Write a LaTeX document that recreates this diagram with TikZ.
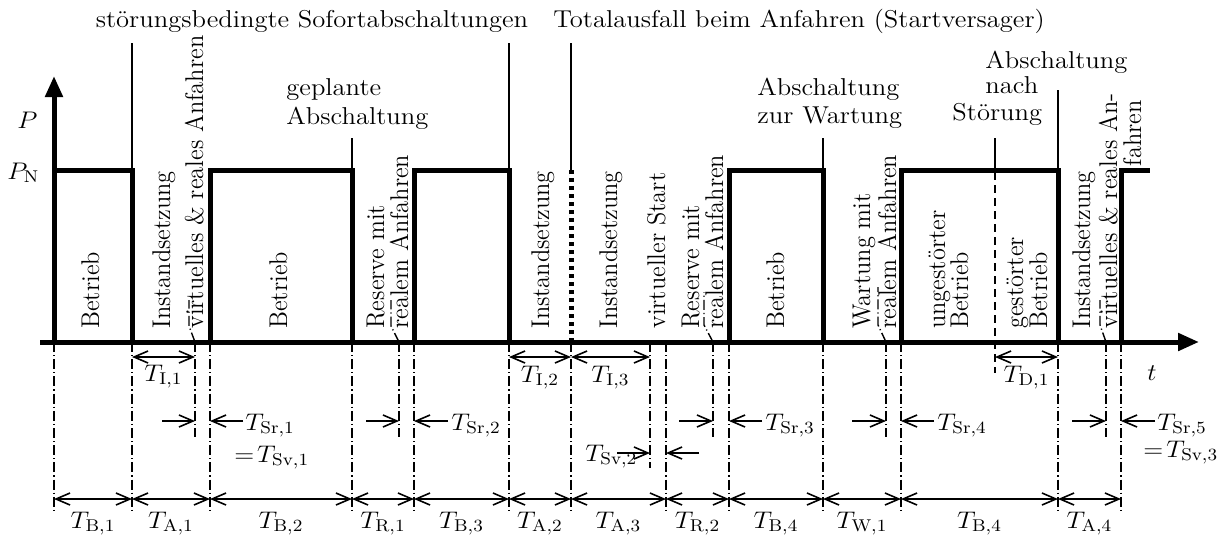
\documentclass[tikz,border=0pt]{standalone}
\usepackage{fontspec}
\usepackage{graphicx}
\usetikzlibrary{arrows.meta}
\newcommand{\hsc}[1]{\scalebox{1.09}[1]{#1}}
\newcommand{\vsc}[1]{\scalebox{1}[1.05]{#1}}
\begin{document}
\begin{tikzpicture}[x=0.5pt,y=-0.5pt,
  every node/.style={inner sep=0pt, font=\fontsize{12.2}{14.6}\selectfont},
  wave/.style={line width=2.5pt, line join=miter},
  axisline/.style={line width=2.5pt, -{Triangle[length=10.5pt,width=8.5pt]}},
  tick/.style={line width=0.8pt},
  dd/.style={line width=0.7pt, dash pattern=on 5pt off 1.5pt on 0.6pt off 1.5pt},
  dashln/.style={line width=0.7pt, dash pattern=on 4pt off 2.5pt},
  dotln/.style={line width=2.5pt, dash pattern=on 2pt off 2pt},
  dim/.style={line width=0.8pt, {Straight Barb[length=7pt,width=6pt]}-{Straight Barb[length=7pt,width=6pt]}},
  dimr/.style={line width=0.8pt, -{Straight Barb[length=7pt,width=6pt]}},
  rot/.style={rotate=90, anchor=base west},
  rotend/.style={rotate=90, anchor=base east},
  lbase/.style={anchor=base west},
  cbase/.style={anchor=base}
]
\useasboundingbox (0,0) rectangle (1218,536);

% axes
\draw[axisline] (40,342) -- (1199,342);
\draw[axisline] (54,342) -- (54,76);
\node[lbase] (P) at (17,128) {\hsc{$P$}};
\node[lbase] (PN) at (7,179) {\hsc{$P_{\mathrm{N}}$}};
\node[cbase] (t) at (1152,380) {\hsc{$t$}};

% waveform
\draw[wave] (54,342) -- (54,170) -- (132,170) -- (132,342) -- (210,342) -- (210,170)
  -- (352,170) -- (352,342) -- (414,342) -- (414,170) -- (509,170) -- (509,342)
  -- (729,342) -- (729,170) -- (823,170) -- (823,342) -- (901,342) -- (901,170)
  -- (1058,170) -- (1058,342) -- (1121,342) -- (1121,170) -- (1150,170);
\draw[dotln] (571,170) -- (571,342);

% top ticks
\draw[tick] (132,43) -- (132,170);
\draw[tick] (352,138) -- (352,170);
\draw[tick] (509,43) -- (509,170);
\draw[tick] (571,43) -- (571,172);
\draw[tick] (823,138) -- (823,170);
\draw[tick] (995,138) -- (995,172);
\draw[tick] (1058,90) -- (1058,170);
\draw[dashln] (995,172) -- (995,373);

% top texts
\node[cbase] (top1) at (312,27) {\hsc{störungsbedingte Sofortabschaltungen}};
\node[cbase] (top2) at (799,27) {\hsc{Totalausfall beim Anfahren (Startversager)}};
\node[lbase] (gp1) at (286,95) {\hsc{geplante}};
\node[lbase] (gp2) at (286,124) {\hsc{Abschaltung}};
\node[lbase] (zw1) at (757,95) {\hsc{Abschaltung}};
\node[lbase] (zw2) at (757,123) {\hsc{zur Wartung}};
\node[lbase] (ns1) at (985,68) {\hsc{Abschaltung}};
\node[lbase] (ns2) at (985,93) {\hsc{nach}};
\node[lbase] (ns3) at (952,120) {\hsc{Störung}};

% rotated texts
\node[rot] (r1) at (99,329) {\vsc{Betrieb}};
\node[rot] (r2) at (170,329) {\vsc{Instandsetzung}};
\node[rot] (r3) at (203,329) {\vsc{virtuelles \& reales Anfahren}};
\node[rot] (r4) at (287,329) {\vsc{Betrieb}};
\node[rot] (r5) at (384,329) {\vsc{Reserve mit}};
\node[rot] (r6) at (408,329) {\vsc{realem Anfahren}};
\node[rot] (r7) at (549,329) {\vsc{Instandsetzung}};
\node[rot] (r8) at (617,329) {\vsc{Instandsetzung}};
\node[rot] (r9) at (665,329) {\vsc{virtueller Start}};
\node[rot] (r10) at (699,329) {\vsc{Reserve mit}};
\node[rot] (r11) at (723,329) {\vsc{realem Anfahren}};
\node[rot] (r12) at (784,329) {\vsc{Betrieb}};
\node[rot] (r13) at (870,329) {\vsc{Wartung mit}};
\node[rot] (r14) at (896,329) {\vsc{realem Anfahren}};
\node[rot] (r15) at (945,329) {\vsc{ungestörter}};
\node[rot] (r16) at (968,329) {\vsc{Betrieb}};
\node[rot] (r17) at (1023,329) {\vsc{gestörter}};
\node[rot] (r18) at (1047,329) {\vsc{Betrieb}};
\node[rot] (r19) at (1090,329) {\vsc{Instandsetzung}};
\node[rot] (r20) at (1117,329) {\vsc{virtuelles \& reales An-}};
\node[rotend] (r21) at (1141,100) {\vsc{fahren}};

% leaders
\draw[dd] (195,342) -- (189,326) -- (189,300);
\draw[dd] (399,342) -- (391,326) -- (391,300);
\draw[dd] (713,342) -- (704,325) -- (704,292);
\draw[dd] (886,342) -- (878,325) -- (878,287);
\draw[dd] (1106,342) -- (1100,325) -- (1100,300);

% dash-dot verticals
\foreach \x in {54,132,210,352,414,509,571,666,729,823,901,1058,1121}
  \draw[dd] (\x,342) -- (\x,512);
\foreach \x in {195,399,713,886,1106}
  \draw[dd] (\x,342) -- (\x,437);
\draw[dd] (650,342) -- (650,468);

% row 1
\draw[dim] (132,357) -- (195,357);
\node[cbase] (i1) at (163.5,381) {\hsc{$T_{\mathrm{I,1}}$}};
\draw[dim] (509,357) -- (571,357);
\node[cbase] (i2) at (540,382) {\hsc{$T_{\mathrm{I,2}}$}};
\draw[dim] (571,357) -- (650,357);
\node[cbase] (i3) at (610.5,382) {\hsc{$T_{\mathrm{I,3}}$}};
\draw[dim] (995,357) -- (1058,357);
\node[cbase] (dd1) at (1026.5,382) {\hsc{$T_{\mathrm{D,1}}$}};

% row 2
\draw[dimr] (162,421) -- (195,421);
\draw[dimr] (243,421) -- (210,421);
\node[lbase] (sr1) at (245,430) {\hsc{$T_{\mathrm{Sr,1}}$}};
\node[lbase] (sv1) at (234,462) {\hsc{$=\!T_{\mathrm{Sv,1}}$}};
\draw[dimr] (366,421) -- (399,421);
\draw[dimr] (448,421) -- (414,421);
\node[lbase] (sr2) at (451,430) {\hsc{$T_{\mathrm{Sr,2}}$}};
\draw[dimr] (679,421) -- (713,421);
\draw[dimr] (762,421) -- (729,421);
\node[lbase] (sr3) at (765,430) {\hsc{$T_{\mathrm{Sr,3}}$}};
\draw[dimr] (852,421) -- (886,421);
\draw[dimr] (934,421) -- (901,421);
\node[lbase] (sr4) at (937,430) {\hsc{$T_{\mathrm{Sr,4}}$}};
\draw[dimr] (1072,421) -- (1106,421);
\draw[dimr] (1155,421) -- (1121,421);
\node[lbase] (sr5) at (1157,430) {\hsc{$T_{\mathrm{Sr,5}}$}};
\node[lbase] (sv3) at (1143,457) {\hsc{$=\!T_{\mathrm{Sv,3}}$}};
\node[lbase] (sv2) at (585,461) {\hsc{$T_{\mathrm{Sv,2}}$}};
\draw[dimr] (617,453) -- (650,453);
\draw[dimr] (699,453) -- (666,453);

% row 3
\foreach \a/\b/\s [count=\i] in {54/132/{B,1},132/210/{A,1},210/352/{B,2},352/414/{R,1},414/509/{B,3},509/571/{A,2},571/666/{A,3},666/729/{R,2},729/823/{B,4},823/901/{W,1},901/1058/{B,4},1058/1121/{A,4}} {
  \draw[dim] (\a,499) -- (\b,499);
  \node[cbase] (tt\i) at ({(\a+\b)/2},528) {\hsc{$T_{\mathrm{\s}}$}};
}
\end{tikzpicture}
\end{document}
